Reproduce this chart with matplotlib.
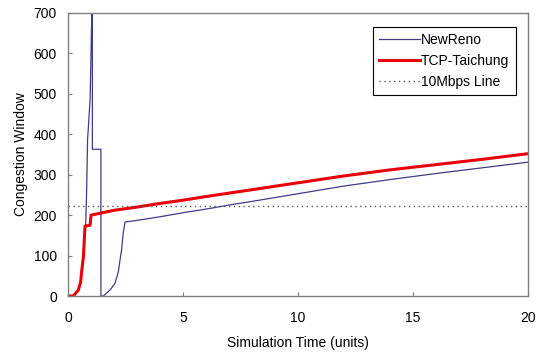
import matplotlib
matplotlib.use('Agg')
import matplotlib.pyplot as plt

plt.rcParams['font.family'] = ['Liberation Sans', 'DejaVu Sans']

# NewReno: slow start, overshoot, loss, timeout, recovery
reno_t = [0.0, 0.23, 0.45, 0.55, 0.60, 0.67, 0.74, 0.77, 0.81, 0.85, 0.96, 0.99,
          1.02, 1.05, 1.06, 1.06, 1.43, 1.43, 1.54, 1.83, 2.04, 2.19, 2.26, 2.33,
          2.40, 2.48, 3.0, 4.0, 5.0, 6.0, 7.0, 8.0, 10.0, 12.0, 14.0, 16.0,
          18.0, 20.0]
reno_w = [0, 0, 15, 35, 64, 97, 171, 178, 258, 386, 485, 567,
          658, 720, 760, 363, 363, 0, 0, 15, 31, 60, 89, 114,
          155, 183, 187, 196, 206, 215, 225, 234, 253, 272, 288, 303,
          317, 331]

# TCP-Taichung
tai_t = [0.0, 0.23, 0.45, 0.55, 0.60, 0.67, 0.74, 0.96, 1.0, 2.0, 3.0, 4.0,
         5.0, 6.0, 8.0, 10.0, 12.0, 14.0, 16.0, 18.0, 20.0]
tai_w = [0, 0, 15, 35, 64, 97, 173, 175, 200, 212, 220, 229,
         237, 246, 263, 280, 297, 312, 325, 338, 352]

line_10mbps = 222

fig = plt.figure(figsize=(5.38, 3.54), dpi=100)
ax = fig.add_axes([0.1264, 0.1638, 0.855, 0.7995])

ax.plot(reno_t, reno_w, color='#3d3d85', lw=0.9, label='NewReno')
ax.plot(tai_t, tai_w, color='#e8000b', lw=2.2, label='TCP-Taichung')
ax.axhline(line_10mbps, color='#555566', lw=1.0, ls=(0, (1, 2.5)),
           label='10Mbps Line')

ax.set_xlim(0, 20)
ax.set_ylim(0, 700)
ax.set_xticks([0, 5, 10, 15, 20])
ax.set_yticks(range(0, 701, 100))
ax.tick_params(direction='in', length=3, colors='#808080', labelcolor='black',
               labelsize=10)
ax.tick_params(axis='y', pad=8)
ax.tick_params(axis='x', pad=11)
for s in ax.spines.values():
    s.set_color('#808080')
    s.set_linewidth(1.0)

ax.set_xlabel('Simulation Time (units)', fontsize=10, labelpad=8)
ax.set_ylabel('Congestion Window', fontsize=10, labelpad=4)

leg = ax.legend(loc='upper right', bbox_to_anchor=(0.988, 0.975), fontsize=10,
                fancybox=False, framealpha=1, edgecolor='black',
                handlelength=2.9, handletextpad=0.1, borderpad=0.45,
                labelspacing=0.5)
leg.get_frame().set_linewidth(0.8)

fig.savefig('out.png', dpi=100)
